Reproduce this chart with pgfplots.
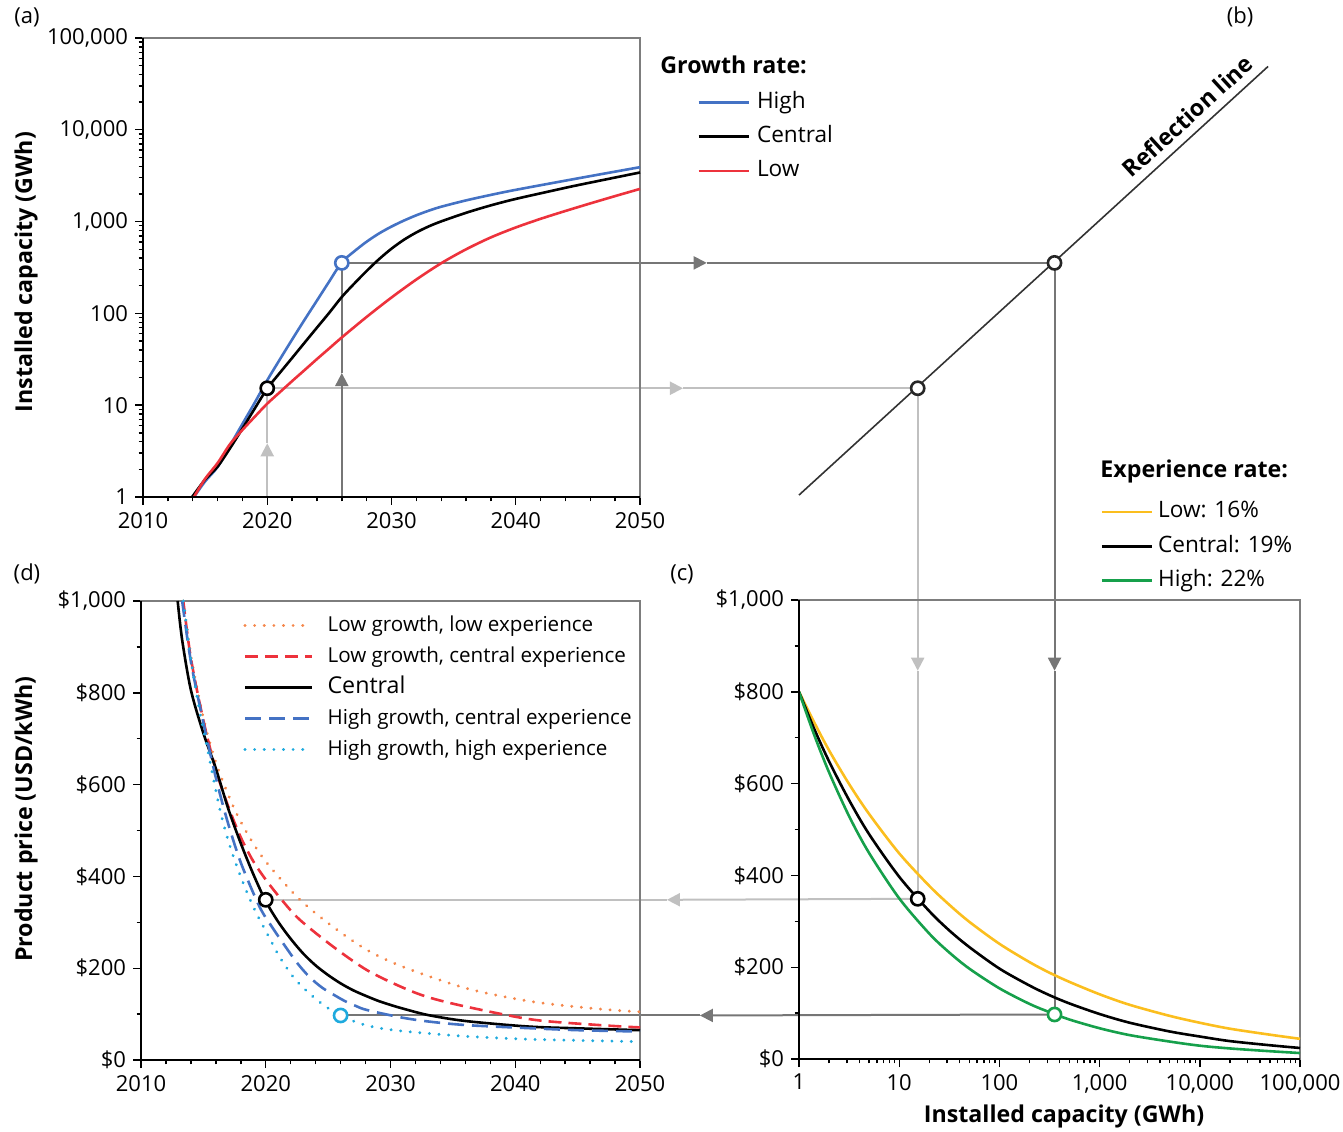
\documentclass[border=0pt]{standalone}
\usepackage{fontspec}
\setmainfont{Open Sans}
\usepackage{pgfplots}
\usepackage{pgfplotstable}
\pgfplotsset{compat=1.18}
\usetikzlibrary{arrows.meta}
\pgfdeclarelayer{background}
\pgfsetlayers{background,main}

\definecolor{hiblue}{RGB}{68,114,196}
\definecolor{lored}{RGB}{237,50,60}
\definecolor{llorange}{RGB}{245,135,75}
\definecolor{hhcyan}{RGB}{30,170,222}
\definecolor{lowyel}{RGB}{251,190,30}
\definecolor{higreen}{RGB}{22,160,75}
\definecolor{darkln}{RGB}{118,118,118}
\definecolor{lightln}{RGB}{192,192,192}
\definecolor{framegray}{RGB}{125,125,125}

\newcommand{\fs}{\fontsize{11}{13}\selectfont}
\newcommand{\fsl}{\fontsize{11.3}{13}\selectfont}
\newcommand{\fsd}{\fontsize{10.3}{12}\selectfont}
\newcommand{\fsb}{\bfseries\fontsize{11.6}{13}\selectfont}

% experience curves: capacity (GWh) vs price for the three experience rates
\pgfplotstableread{
cap     low  central high
1       800  800     800
1.413   734  720     707
2       672  648     624
3.162   599  564     529
5       534  490     449
10      448  397     350
20      377  322     273
31.62   336  280     232
50      299  244     197
100     251  197     154
200     211  160     120
316.2   188  139     102
500     168  121     86
1000    141  98      67
2000    118  79      52
5000    94   60      38
10000   79   49      29
20000   66   39      23
50000   53   30      17
100000  44   24      13
}\expcurve

\pgfplotsset{
  panel/.style={
    scale only axis, anchor=south west, clip=false,
    axis line style={framegray, line width=0.7pt},
    tick style={black, line width=0.7pt},
    tick align=outside,
    major tick length=4pt, minor tick length=2.2pt,
    xtick pos=left, ytick pos=left,
    tick label style={font=\fs},
    label style={font=\fsb},
    legend cell align=left,
  },
  curve/.style={line width=1.3pt, smooth},
  dots/.style={line width=1.6pt, line cap=round, dash pattern=on 0.01pt off 4.8pt},
  ring/.style={only marks, mark=*, mark size=3.3pt, forget plot,
    mark options={fill=white, draw=#1, line width=1.3pt}},
}
\tikzset{tip/.style={-{Triangle[length=6.5pt,width=6.5pt]}}}

\begin{document}
\begin{tikzpicture}
\path[use as bounding box] (0,0) rectangle (671.5pt,565.5pt);

% (a) installed capacity over time
\begin{axis}[panel, at={(71.5pt,317pt)}, width=248.5pt, height=229.5pt,
  xmin=2010, xmax=2050, ymode=log, ymin=1, ymax=100000,
  xtick={2010,2020,2030,2040,2050}, xticklabels={2010,2020,2030,2040,2050},
  minor x tick num=4,
  ytick={1,10,100,1000,10000,100000},
  yticklabels={1,10,100,{1,000},{10,000},{100,000}},
  ylabel={Installed capacity (GWh)},
  ylabel style={at={(rel axis cs:-0.235,0.49)}, anchor=center},
  legend style={draw=none, fill=none, at={(rel axis cs:1.1147,0.894)},
    anchor=north west, font=\fsl, inner sep=0pt, row sep=2pt,
    nodes={text height=8.5pt, text depth=2.7pt},
    /tikz/every odd column/.append style={column sep=1.5pt}},
  legend image code/.code={\draw[#1] (0pt,0pt) -- (25pt,0pt);},
]
\addplot[curve, hiblue] coordinates {(2014.1,1)(2015,1.48)(2016,2.12)(2017,3.63)(2018,6.24)(2019,10.7)(2020,18.7)(2021,31.3)(2022,51.9)(2023,85.1)(2024,138)(2025,224)(2026,360)(2027,474)(2028,604)(2029,743)(2030,883)(2031,1026)(2032,1172)(2033,1315)(2034,1452)(2036,1702)(2038,1954)(2040,2218)(2045,2958)(2050,3917)};
\addlegendentry{High}
\addplot[curve, black] coordinates {(2013.95,1)(2015,1.55)(2016,2.14)(2017,3.39)(2018,5.56)(2019,9.23)(2020,15.2)(2021,22.4)(2022,32.7)(2023,47.9)(2024,70)(2025,102)(2026,151)(2027,211)(2028,290)(2029,390)(2030,507)(2031,634)(2032,762)(2033,887)(2034,1005)(2036,1247)(2038,1503)(2040,1766)(2043,2178)(2045,2495)(2050,3428)};
\addlegendentry{Central}
\addplot[curve, lored] coordinates {(2014.1,1)(2015,1.58)(2016,2.34)(2017,3.76)(2018,5.37)(2019,7.5)(2020,10.4)(2021,13.8)(2022,18.3)(2023,24.1)(2024,31.8)(2025,41.7)(2026,54.7)(2028,91.6)(2030,149)(2032,234)(2034,352)(2036,499)(2038,673)(2040,863)(2042,1072)(2044,1306)(2046,1578)(2048,1897)(2050,2270)};
\addlegendentry{Low}
\addplot[ring=hiblue] coordinates {(2026,355)};
\addplot[ring=black] coordinates {(2020,15.3)};
\draw[black, line width=1pt] (rel axis cs:0,1) -- (rel axis cs:0,0) -- (rel axis cs:1,0);
\coordinate (aL0) at (axis cs:2020,1);
\coordinate (aLt) at (axis cs:2020,3.85);
\coordinate (aL) at (axis cs:2020,15.3);
\coordinate (aLh) at (axis cs:2053.46,15.3);
\coordinate (aD0) at (axis cs:2026,1);
\coordinate (aDt) at (axis cs:2026,22.4);
\coordinate (aD) at (axis cs:2026,355);
\coordinate (aDh) at (axis cs:2055.37,355);
\end{axis}

% (b) reflection line
\begin{axis}[panel, hide axis, at={(399.5pt,317pt)}, width=250.5pt, height=229.5pt,
  xmode=log, ymode=log, xmin=1, xmax=100000, ymin=1, ymax=100000]
\addplot[black!80, line width=0.8pt] coordinates {(1,1.05)(48000,49000)};
\node[rotate=42.5, anchor=south, font=\fsb, inner sep=4.5pt] at (axis cs:10000,10000) {Reflection line};
\addplot[ring=black!85] coordinates {(15.3,15.3)(355,355)};
\coordinate (bL) at (axis cs:15.3,15.3);
\coordinate (bD) at (axis cs:355,355);
\end{axis}

% (c) experience curves
\begin{axis}[panel, at={(399.5pt,36pt)}, width=250.5pt, height=229.5pt,
  xmode=log, xmin=1, xmax=100000, ymin=0, ymax=1000,
  xtick={1,10,100,1000,10000,100000},
  xticklabels={1,10,100,{1,000},{10,000},{100,000}},
  ytick={0,200,400,600,800,1000},
  yticklabels={\$0,\$200,\$400,\$600,\$800,{\$1,000}},
  minor y tick num=1,
  xlabel={Installed capacity (GWh)},
  xlabel style={at={(rel axis cs:0.529,-0.126)}, anchor=center},
  legend style={draw=none, fill=none, at={(rel axis cs:0.601,1.226)},
    anchor=north west, font=\fsl, inner sep=0pt, row sep=2pt,
    nodes={text height=8.5pt, text depth=2.7pt},
    /tikz/every odd column/.append style={column sep=0.5pt}},
  legend image code/.code={\draw[#1] (0pt,0pt) -- (25pt,0pt);},
]
\addplot[curve, lowyel] table[x=cap, y=low] {\expcurve};
\addlegendentry{Low: 16\%}
\addplot[curve, black] table[x=cap, y=central] {\expcurve};
\addlegendentry{Central: 19\%}
\addplot[curve, higreen] table[x=cap, y=high] {\expcurve};
\addlegendentry{High: 22\%}
\addplot[ring=black] coordinates {(15.3,349)};
\addplot[ring=higreen] coordinates {(355,97)};
\draw[black, line width=1pt] (rel axis cs:0,1) -- (rel axis cs:0,0) -- (rel axis cs:1,0);
\coordinate (cLt) at (axis cs:15.3,846);
\coordinate (cL) at (axis cs:15.3,349);
\coordinate (cDt) at (axis cs:355,846);
\coordinate (cD) at (axis cs:355,97);
\end{axis}

% (d) product price over time
\begin{axis}[panel, at={(70.5pt,35.5pt)}, width=249.5pt, height=229.5pt,
  xmin=2010, xmax=2050, ymin=0, ymax=1000,
  xtick={2010,2020,2030,2040,2050}, xticklabels={2010,2020,2030,2040,2050},
  minor x tick num=4,
  ytick={0,200,400,600,800,1000},
  yticklabels={\$0,\$200,\$400,\$600,\$800,{\$1,000}},
  minor y tick num=1,
  ylabel={Product price (USD/kWh)},
  ylabel style={at={(rel axis cs:-0.2305,0.525)}, anchor=center},
  legend style={draw=none, fill=none, at={(rel axis cs:0.2044,0.9785)},
    anchor=north west, font=\fsd, inner sep=0pt, row sep=1pt,
    nodes={text height=8pt, text depth=2.5pt},
    /tikz/every odd column/.append style={column sep=5pt}},
  legend image code/.code={\draw[#1] (0pt,0pt) -- (33.5pt,0pt);},
]
\addplot[curve, llorange, dots] coordinates {(2013.39,1000)(2014,880)(2015,745)(2016,648)(2017.4,552)(2018.7,485)(2020.1,429)(2022.75,349)(2025.4,290)(2028.1,240)(2031,203)(2036.1,156)(2041.4,127)(2046.8,111)(2050,105)};
\addlegendentry{Low growth, low experience}
\addplot[curve, lored, dash pattern=on 6.5pt off 3.5pt] coordinates {(2013.39,1000)(2014,875)(2015,740)(2016,632)(2017,552)(2018,485)(2019,433)(2020.08,390)(2021.4,345)(2022.75,305)(2025.4,247)(2028.1,196)(2030.8,160)(2033,137)(2036.1,116)(2041.4,88)(2046.8,76)(2050,71)};
\addlegendentry{Low growth, central experience}
\addplot[curve, black] coordinates {(2012.94,1000)(2013.3,915)(2014,806)(2015,712)(2016,635)(2017,547)(2018,472)(2019,405)(2020,346)(2021,301)(2022,264)(2023,232)(2024,206)(2025,185)(2026,167)(2027,152)(2028,140)(2029,129)(2030,120)(2031,112)(2033,98)(2036,85)(2041,73)(2045,69)(2050,65)};
\addlegendentry{\fontsize{11.6}{13}\selectfont Central}
\addplot[curve, hiblue, dash pattern=on 8pt off 4pt] coordinates {(2013.3,1000)(2014,868)(2015,735)(2016,615)(2016.9,523)(2018,430)(2019.5,334)(2020.5,290)(2021.4,254)(2022.5,212)(2023.5,181)(2024.5,158)(2025.4,143)(2026.3,129)(2027.2,118)(2028.1,109)(2030.8,93)(2033,84)(2036.1,76)(2041.4,69)(2045,65)(2050,62)};
\addlegendentry{High growth, central experience}
\addplot[curve, hhcyan, dots] coordinates {(2013.4,1000)(2014,872)(2014.7,760)(2015.35,675)(2016.33,545)(2017.2,460)(2018.2,385)(2019.1,328)(2020.1,276)(2021.1,225)(2022.2,181)(2023.1,155)(2024.1,131)(2025,113)(2026,97)(2027,85)(2028,76)(2029,70)(2030,66)(2031.3,62)(2033,58)(2036.1,51.5)(2041.4,45)(2050,40)};
\addlegendentry{High growth, high experience}
\addplot[ring=black] coordinates {(2020,349)};
\addplot[ring=hhcyan] coordinates {(2026,97)};
\draw[black, line width=1pt] (rel axis cs:0,1) -- (rel axis cs:0,0) -- (rel axis cs:1,0);
\coordinate (dLt) at (axis cs:2052.16,349);
\coordinate (dL) at (axis cs:2020,349);
\coordinate (dDt) at (axis cs:2054.8,97);
\coordinate (dD) at (axis cs:2026,97);
\end{axis}

% connecting lines between the panels
\begin{pgfonlayer}{background}
\draw[lightln, line width=1pt, tip] (aL0) -- (aLt);
\draw[lightln, line width=1pt] (aLt) -- (aL);
\draw[lightln, line width=1pt, tip] (aL) -- (aLh);
\draw[lightln, line width=1pt] (aLh) -- (bL);
\draw[lightln, line width=1pt, tip] (bL) -- (cLt);
\draw[lightln, line width=1pt] (cLt) -- (cL);
\draw[lightln, line width=1pt, tip] (cL) -- (dLt);
\draw[lightln, line width=1pt] (dLt) -- (dL);
\draw[darkln, line width=1pt, tip] (aD0) -- (aDt);
\draw[darkln, line width=1pt] (aDt) -- (aD);
\draw[darkln, line width=1pt, tip] (aD) -- (aDh);
\draw[darkln, line width=1pt] (aDh) -- (bD);
\draw[darkln, line width=1pt, tip] (bD) -- (cDt);
\draw[darkln, line width=1pt] (cDt) -- (cD);
\draw[darkln, line width=1pt, tip] (cD) -- (dDt);
\draw[darkln, line width=1pt] (dDt) -- (dD);
\end{pgfonlayer}

\node[font=\fs, inner sep=0pt] at (13.5pt,557pt) {(a)};
\node[font=\fs, inner sep=0pt] at (620pt,557pt) {(b)};
\node[font=\fs, inner sep=0pt] at (341pt,278.5pt) {(c)};
\node[font=\fs, inner sep=0pt] at (13.5pt,278.5pt) {(d)};
\node[font=\fsb, anchor=west, inner sep=0pt] at (330pt,533pt) {Growth rate:};
\node[font=\fsb, anchor=west, inner sep=0pt] at (550pt,330pt) {Experience rate:};
\end{tikzpicture}
\end{document}
